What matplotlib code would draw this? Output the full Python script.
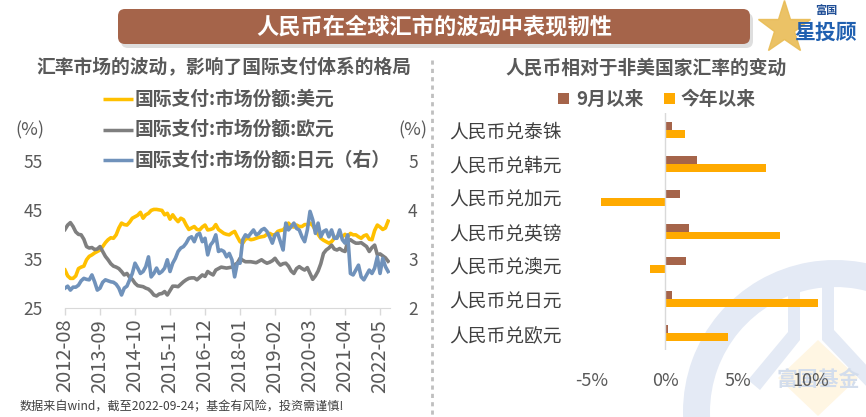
import numpy as np
import matplotlib
matplotlib.use("Agg")
import matplotlib.pyplot as plt
from matplotlib.patches import FancyBboxPatch, Wedge, Polygon

plt.rcParams['font.family'] = ['Noto Sans CJK SC', 'DejaVu Sans']

# ---------------- data ----------------
usd_share = [
    32.7, 31.5, 31.0, 31.0, 31.5, 33.0, 33.3, 33.5, 34.8, 35.5,
    35.8, 36.2, 36.5, 36.8, 37.5, 38.3, 38.9, 39.3, 39.2, 39.9,
    41.3, 42.3, 42.0, 41.9, 42.5, 43.3, 43.6, 43.9, 44.5, 43.3,
    44.0, 44.3, 44.9, 45.1, 45.1, 45.0, 44.9, 44.0, 44.3, 43.1,
    44.0, 43.2, 42.6, 43.3, 43.0, 41.9, 41.0, 41.3, 41.6, 41.0,
    40.9, 41.5, 41.9, 40.9, 41.0, 41.2, 42.0, 41.0, 40.6, 40.2,
    40.0, 39.9, 40.3, 40.6, 39.5, 38.5, 38.2, 39.0, 39.2, 38.9,
    39.0, 39.2, 39.4, 39.5, 39.6, 40.0, 40.2, 39.9, 39.9, 40.6,
    40.8, 40.9, 41.5, 42.3, 41.6, 41.5, 41.9, 41.6, 41.6, 42.0,
    42.0, 42.3, 41.8, 40.9, 40.0, 39.2, 38.8, 38.5, 38.2, 38.5,
    39.2, 39.5, 39.9, 39.5, 40.0, 39.5, 40.2, 39.9, 39.9, 39.5,
    39.2, 39.7, 39.9, 39.0, 38.9, 40.8, 41.9, 41.5, 41.0, 41.3,
    42.7]
eur_share = [
    41.0, 41.9, 42.4, 41.6, 40.5, 40.0, 39.9, 39.0, 37.5, 37.2,
    37.3, 36.9, 37.0, 37.5, 36.5, 35.5, 34.8, 34.0, 33.5, 33.3,
    33.0, 32.4, 31.7, 32.0, 31.2, 30.8, 30.0, 29.5, 29.4, 29.3,
    29.0, 28.8, 28.3, 27.6, 27.4, 27.8, 27.9, 28.3, 27.6, 28.5,
    29.4, 29.4, 29.3, 29.8, 30.3, 30.7, 31.0, 31.1, 31.1, 30.7,
    31.2, 31.7, 31.4, 32.4, 32.0, 31.7, 32.7, 33.0, 33.3, 33.2,
    33.1, 33.2, 33.3, 33.8, 34.1, 35.1, 34.7, 34.4, 34.4, 34.4,
    34.3, 34.2, 34.5, 34.8, 34.4, 34.1, 34.3, 34.6, 35.1, 34.3,
    33.7, 34.0, 34.1, 33.5, 32.5, 32.0, 33.0, 33.4, 33.0, 32.7,
    33.2, 32.0, 30.8, 31.5, 32.5, 34.0, 36.1, 36.8, 37.2, 37.8,
    37.0, 36.8, 37.1, 36.7, 36.5, 38.5, 38.9, 38.5, 38.2, 38.2,
    38.3, 37.9, 37.5, 36.5, 37.3, 37.8, 35.8, 36.0, 35.6, 35.2,
    34.5]
jpy_share = [
    2.40, 2.44, 2.36, 2.42, 2.42, 2.46, 2.55, 2.60, 2.58, 2.57,
    2.67, 2.53, 2.36, 2.40, 2.52, 2.57, 2.55, 2.53, 2.52, 2.48,
    2.40, 2.26, 2.40, 2.44, 2.57, 2.70, 2.91, 2.81, 2.70, 2.74,
    2.84, 3.04, 2.63, 2.70, 2.81, 2.70, 2.74, 2.81, 2.98, 2.74,
    2.91, 3.01, 3.15, 3.22, 3.25, 3.32, 3.42, 3.45, 3.35, 3.49,
    3.52, 3.35, 3.42, 3.08, 3.28, 3.35, 3.49, 3.15, 3.18, 3.15,
    3.04, 3.11, 2.98, 2.63, 2.91, 2.91, 3.39, 3.49, 3.45, 3.52,
    3.59, 3.49, 3.52, 3.59, 3.62, 3.56, 3.45, 3.32, 3.49, 3.52,
    3.35, 3.18, 3.73, 3.59, 3.66, 3.73, 3.62, 3.59, 3.45, 3.35,
    3.59, 3.97, 3.80, 3.52, 3.73, 3.45, 3.56, 3.59, 3.45, 3.59,
    3.42, 3.42, 3.59, 3.39, 3.32, 3.49, 2.70, 2.67, 2.77, 2.87,
    2.63, 2.57, 2.67, 2.77, 2.70, 2.81, 3.04, 2.70, 3.01, 2.84,
    2.74]
x_tick_labels = ['2012-08', '2013-09', '2014-10', '2015-11', '2016-12',
                 '2018-01', '2019-02', '2020-03', '2021-04', '2022-05']
x_tick_step = 13

bar_categories = ['人民币兑泰铢', '人民币兑韩元', '人民币兑加元', '人民币兑英镑',
                  '人民币兑澳元', '人民币兑日元', '人民币兑欧元']
since_sep = [0.5, 2.2, 1.0, 1.65, 1.45, 0.45, 0.18]
since_ytd = [1.35, 6.9, -4.4, 7.9, -1.05, 10.5, 4.3]

# ---------------- figure ----------------
W, H = 866, 417
fig = plt.figure(figsize=(W / 100, H / 100), dpi=100)

def ax_px(l, t, r, b):
    return fig.add_axes([l / W, 1 - b / H, (r - l) / W, (b - t) / H])

TXT = '#595959'

bg = fig.add_axes([0, 0, 1, 1])
bg.set_xlim(0, W)
bg.set_ylim(H, 0)
bg.axis('off')
bg.set_zorder(0)

# watermark (light logo bottom right)
WM = '#E4EAF5'
bg.add_patch(Wedge((835, 412), 152, 100, 420, width=27, facecolor=WM, edgecolor='none'))
bg.add_patch(Polygon([[788, 272], [800, 272], [800, 340], [760, 390], [748, 380], [788, 332]],
                     closed=True, facecolor=WM, edgecolor='none'))
bg.add_patch(Polygon([[822, 262], [834, 262], [834, 330], [880, 380], [870, 390], [822, 340]],
                     closed=True, facecolor=WM, edgecolor='none'))
bg.add_patch(Polygon([[818, 340], [858, 378], [818, 416], [778, 378]], closed=True,
                     facecolor='#FFF6E3', edgecolor='none'))
bg.text(818, 379, '富国基金', fontsize=15, fontweight='bold', color='#D3DDEC',
        ha='center', va='center')

# title banner
bg.add_patch(FancyBboxPatch((121, 13), 632, 35, boxstyle='round,pad=0,rounding_size=7',
                            facecolor='#C9C9C9', edgecolor='none', alpha=0.6))
bg.add_patch(FancyBboxPatch((118, 9), 632, 35, boxstyle='round,pad=0,rounding_size=7',
                            facecolor='#A5644A', edgecolor='none'))
bg.text(434, 27, '人民币在全球汇市的波动中表现韧性', fontsize=16, fontweight='bold',
        color='white', ha='center', va='center')

# logo top right
bg.plot([784], [28], marker='*', markersize=40, color='#E9BC55', alpha=0.9)
bg.text(826, 10, '富国', fontsize=8, fontweight='bold', color='#1F4E96', ha='center', va='center')
bg.text(826, 32, '星投顾', fontsize=15, fontweight='bold', color='#2060B0',
        ha='center', va='center', style='italic')

# separator
bg.plot([432, 432], [60, 417], color='#BFBFBF', lw=2, ls=(0, (1.5, 1.5)))

# subtitles
bg.text(224, 68, '汇率市场的波动，影响了国际支付体系的格局', fontsize=13.5, fontweight='bold',
        color=TXT, ha='center', va='center')
bg.text(646, 68, '人民币相对于非美国家汇率的变动', fontsize=13.5, fontweight='bold',
        color=TXT, ha='center', va='center')

# left legend
leg_items = [('国际支付:市场份额:美元', '#FFC000'),
             ('国际支付:市场份额:欧元', '#7F7F7F'),
             ('国际支付:市场份额:日元（右）', '#7092BB')]
for k, (lab, col) in enumerate(leg_items):
    yy = 99 + 30.5 * k
    bg.plot([103, 133], [yy, yy], color=col, lw=2.5, solid_capstyle='butt')
    bg.text(135, yy, lab, fontsize=13.5, fontweight='bold', color=TXT, ha='left', va='center')

bg.text(30, 130, '(%)', fontsize=13, color=TXT, ha='center', va='center')
bg.text(413, 130, '(%)', fontsize=13, color=TXT, ha='center', va='center')

# right legend
bg.add_patch(plt.Rectangle((558, 93), 11, 11, facecolor='#A5644A', edgecolor='none'))
bg.text(576, 99, '9月以来', fontsize=13.5, fontweight='bold', color=TXT, ha='left', va='center')
bg.add_patch(plt.Rectangle((664, 93), 11, 11, facecolor='#FFAA00', edgecolor='none'))
bg.text(681, 99, '今年以来', fontsize=13.5, fontweight='bold', color=TXT, ha='left', va='center')

# footnote
bg.text(20, 407, '数据来自wind，截至2022-09-24；基金有风险，投资需谨慎!', fontsize=8.7,
        color='#404040', ha='left', va='center')

# ---------------- left line chart ----------------
axL = ax_px(65, 161, 390, 307.7)
axL.patch.set_visible(False)
axL.set_zorder(1)
axL.plot(np.arange(len(usd_share)), usd_share, color='#FFC000', lw=2.6)
axL.plot(np.arange(len(eur_share)), eur_share, color='#7F7F7F', lw=2.6)
axL.set_xlim(0, 120.7)
axL.set_ylim(25, 55)
axL.set_yticks([25, 35, 45, 55])
axL.tick_params(axis='y', length=0, pad=16, labelsize=12.5, labelcolor=TXT)
axL.set_xticks(np.arange(len(x_tick_labels)) * x_tick_step)
axL.set_xticklabels(x_tick_labels, rotation=90)
axL.tick_params(axis='x', length=5, width=1, color='#D9D9D9', labelsize=14.5,
                labelcolor=TXT, pad=3)
for s in ['top', 'right', 'left']:
    axL.spines[s].set_visible(False)
axL.spines['bottom'].set_color('#D9D9D9')

axR = axL.twinx()
axR.patch.set_visible(False)
axR.plot(np.arange(len(jpy_share)), jpy_share, color='#7092BB', lw=2.6)
axR.set_ylim(2, 5)
axR.set_yticks([2, 3, 4, 5])
axR.tick_params(axis='y', length=0, pad=13, labelsize=12.5, labelcolor=TXT)
for s in ['top', 'right', 'left', 'bottom']:
    axR.spines[s].set_visible(False)

# ---------------- right bar chart ----------------
axB = ax_px(577.4, 113, 844.6, 350)
axB.patch.set_visible(False)
axB.set_zorder(1)
yc = np.arange(len(bar_categories))
bh = 0.236
axB.barh(yc - bh / 2, since_sep, height=bh, color='#A5644A')
axB.barh(yc + bh / 2, since_ytd, height=bh, color='#FFAA00')
axB.axvline(0, color='#D9D9D9', lw=1)
axB.set_xlim(-6, 12.3)
axB.set_ylim(len(bar_categories) - 0.5, -0.5)
axB.set_yticks(yc)
axB.set_yticklabels(bar_categories)
axB.tick_params(axis='y', length=0, pad=11, labelsize=13.5, labelcolor='#404040')
axB.set_xticks([-5, 0, 5, 10])
axB.set_xticklabels(['-5%', '0%', '5%', '10%'])
axB.tick_params(axis='x', length=0, pad=16, labelsize=13, labelcolor=TXT)
for s in axB.spines.values():
    s.set_visible(False)

fig.savefig('out.png', dpi=100)
